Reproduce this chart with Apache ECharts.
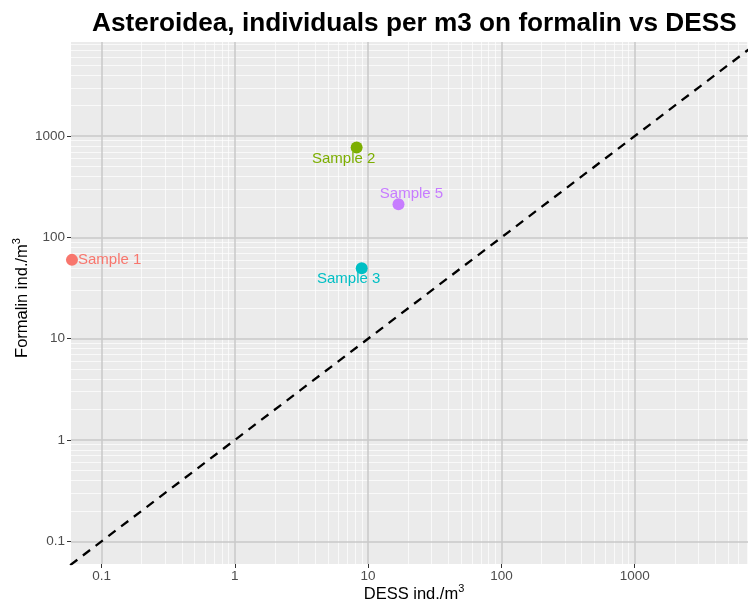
<!DOCTYPE html>
<html><head><meta charset="utf-8">
<script src="https://cdn.jsdelivr.net/npm/echarts@6/dist/echarts.min.js"></script>
<style>html,body{margin:0;padding:0;background:#fff}#c{width:748px;height:606px}</style>
</head><body><div id="c"></div>
<script>
const samples = ['Sample 1', 'Sample 2', 'Sample 3', 'Sample 5'];
const dessValues = [0.06, 8.2, 8.95, 16.9];
const formalinValues = [60, 770, 49.5, 212];
const sampleColors = ['#F8766D', '#7CAE00', '#00BFC4', '#C77CFF'];
const majorTicks = [0.1, 1, 10, 100, 1000];
const minorTicks = [0.2, 0.3, 0.4, 0.5, 0.6, 0.7, 0.8, 0.9,
  2, 3, 4, 5, 6, 7, 8, 9,
  20, 30, 40, 50, 60, 70, 80, 90,
  200, 300, 400, 500, 600, 700, 800, 900,
  2000, 3000, 4000, 5000, 6000, 7000, 8000, 9000];
const identityLine = [0.01, 100000];
const xRange = [0.059, 7080];
const yRange = [0.0597, 8490];

const FONT = '"Liberation Sans", Arial, sans-serif';
const labelOffsets = [null, [-13, 11], [-13, 11], [13, -10]];
const fmt = v => String(+Number(v).toPrecision(6));

function majorAxis(isX) {
  const r = isX ? xRange : yRange;
  return {
    type: 'log', logBase: 10, min: r[0], max: r[1],
    position: isX ? 'bottom' : 'left', z: 2,
    axisLine: { show: false },
    axisTick: { show: true, length: 4, customValues: majorTicks, lineStyle: { color: '#333333', width: 1 } },
    axisLabel: { customValues: majorTicks, color: '#4d4d4d', fontSize: 13.5, fontFamily: FONT, margin: isX ? 5 : 6, formatter: fmt },
    splitLine: { show: true, lineStyle: { color: '#c9c9c9', width: 1.5 } },
    minorTick: { show: false }, minorSplitLine: { show: false },
    name: isX ? '{n|DESS ind./m}{s|3}' : '{n|Formalin ind./m}{s|3}',
    nameLocation: 'middle',
    nameMoveOverlap: false,
    nameGap: isX ? 19 : 40,
    nameTextStyle: {
      fontFamily: FONT,
      padding: isX ? [0, 0, 0, 9] : [0, 0, 0, 10],
      rich: {
        n: { fontSize: 16.5, color: '#000', fontFamily: FONT, lineHeight: 20, verticalAlign: 'bottom' },
        s: { fontSize: 11, color: '#000', fontFamily: FONT, lineHeight: 12, verticalAlign: 'top' }
      }
    }
  };
}
function minorAxis(isX) {
  const r = isX ? xRange : yRange;
  return {
    type: 'log', logBase: 10, min: r[0], max: r[1],
    position: isX ? 'bottom' : 'left', z: 1,
    axisLine: { show: false },
    axisTick: { show: false, customValues: minorTicks },
    axisLabel: { show: false, customValues: minorTicks },
    splitLine: { show: true, lineStyle: { color: '#ffffff', width: 0.7 } },
    minorTick: { show: false }, minorSplitLine: { show: false }
  };
}

const series = samples.map((s, i) => ({
  type: 'scatter', name: s, xAxisIndex: 1, yAxisIndex: 1, z: 5,
  symbolSize: 12,
  itemStyle: { color: sampleColors[i], opacity: 1 },
  data: [[dessValues[i], formalinValues[i]]],
  label: labelOffsets[i] ? {
    show: true, formatter: s, color: sampleColors[i], fontSize: 15, fontFamily: FONT,
    position: 'inside', offset: labelOffsets[i], align: 'center', verticalAlign: 'middle'
  } : {
    show: true, formatter: s, color: sampleColors[i], fontSize: 15, fontFamily: FONT,
    position: 'right', distance: 0
  },
  emphasis: { disabled: true }
}));
series.push({
  type: 'line', xAxisIndex: 1, yAxisIndex: 1, z: 4, clip: true,
  data: identityLine.map(v => [v, v]),
  showSymbol: false, symbol: 'none',
  lineStyle: { color: '#000', width: 2.3, type: [9, 7] },
  emphasis: { disabled: true }
});

const chart = echarts.init(document.getElementById('c'), null, { renderer: 'canvas' });
chart.setOption({
  animation: false,
  textStyle: { fontFamily: FONT },
  title: {
    text: 'Asteroidea, individuals per m3 on formalin vs DESS',
    left: 87, top: 6,
    textStyle: { fontSize: 26.2, fontWeight: 'bold', color: '#000', fontFamily: FONT }
  },
  grid: { left: 71, right: 0, top: 42, bottom: 42, show: true, backgroundColor: '#ebebeb', borderWidth: 0, containLabel: false, outerBoundsMode: 'none' },
  xAxis: [minorAxis(true), majorAxis(true)],
  yAxis: [minorAxis(false), majorAxis(false)],
  series: series
});
</script></body></html>
